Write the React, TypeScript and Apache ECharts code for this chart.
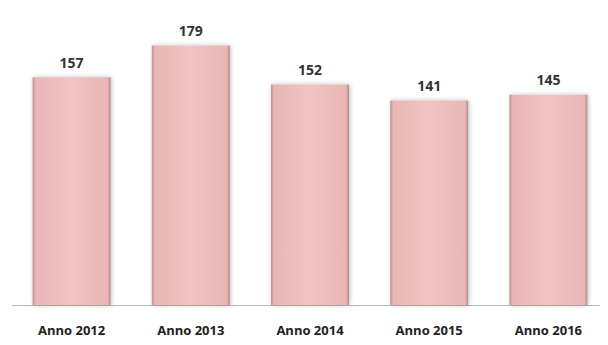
import React, { useEffect, useRef } from "react";
import * as echarts from "echarts";

const categories = ["Anno 2012", "Anno 2013", "Anno 2014", "Anno 2015", "Anno 2016"];
const values = [157, 179, 152, 141, 145];

export default function App() {
  const ref = useRef<HTMLDivElement>(null);
  useEffect(() => {
    if (!ref.current) return;
    const chart = echarts.init(ref.current, null, { renderer: "svg" });
    chart.setOption({
      animation: false,
      backgroundColor: "#ffffff",
      grid: { left: 4, right: 0, top: 7, bottom: 40, containLabel: false },
      xAxis: {
        type: "category",
        data: categories,
        axisLine: { show: true, lineStyle: { color: "#b8b8b8", width: 1 } },
        axisTick: { show: false },
        axisLabel: {
          color: "#222222",
          fontFamily: "Open Sans",
          fontWeight: "bold",
          fontSize: 13,
          margin: 18,
        },
      },
      yAxis: {
        type: "value",
        min: 0,
        max: 200,
        show: false,
        splitLine: { show: false },
      },
      series: [
        {
          type: "bar",
          data: values,
          barWidth: 78,
          itemStyle: {
            color: new echarts.graphic.LinearGradient(0, 0, 1, 0, [
              { offset: 0, color: "#b89494" },
              { offset: 0.04, color: "#eab6b6" },
              { offset: 0.5, color: "#f3c2c2" },
              { offset: 0.96, color: "#eab6b6" },
              { offset: 1, color: "#b08c8c" },
            ]),
            shadowColor: "rgba(0,0,0,0.25)",
            shadowBlur: 4,
            shadowOffsetX: 1,
            shadowOffsetY: 0,
          },
          label: {
            show: true,
            position: "top",
            distance: 8,
            color: "#333333",
            fontFamily: "Open Sans",
            fontWeight: "bold",
            fontSize: 14,
          },
        },
      ],
    });
    return () => chart.dispose();
  }, []);
  return <div ref={ref} style={{ width: 600, height: 337 }} />;
}
